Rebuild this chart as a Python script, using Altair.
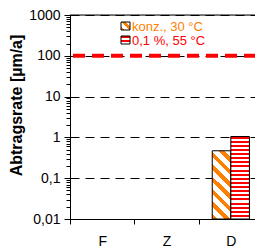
import altair as alt
import pandas as pd

categories = ["F", "Z", "D"]
series_names = ["konz., 30 °C", "0,1 %, 55 °C"]
konz_values = [None, None, 0.47]
dilute_values = [None, None, 1.05]
limit_value = 100
decades = [0.01, 0.1, 1, 10, 100, 1000]
series_colors = ["#ff8000", "#ff0000"]

rows = []
for c, v1, v2 in zip(categories, konz_values, dilute_values):
    if v1 is not None:
        rows.append({"cat": c, "series": series_names[0], "value": v1})
    if v2 is not None:
        rows.append({"cat": c, "series": series_names[1], "value": v2})
df = pd.DataFrame(rows)

def stripes(color, n, frac, x1, y1, x2, y2):
    stops = []
    for i in range(n):
        a = i / n
        b = (i + frac) / n
        c = (i + 1) / n
        stops += [{"offset": a, "color": color}, {"offset": b, "color": color},
                  {"offset": b, "color": "white"}, {"offset": c, "color": "white"}]
    return {"gradient": "linear", "x1": x1, "y1": y1, "x2": x2, "y2": y2, "stops": stops}

a = 0.27
k = (a + 1) / (1 + a * a)
diag_fill = stripes(series_colors[0], 7, 0.45, 0, 1, a * k, 1 - k)
horiz_fill = stripes(series_colors[1], 20, 0.5, 0, 0, 0, 1)
leg_diag = stripes(series_colors[0], 2, 0.45, 0, 1, 1, 0)
leg_horiz = stripes(series_colors[1], 2, 0.5, 0, 0, 0, 1)

ticks = []
for d in decades[:-1]:
    ticks += [d * m for m in range(1, 10)]
ticks.append(decades[-1])

dec_test = "abs(log(datum.value)/LN10 - round(log(datum.value)/LN10)) < 0.001"

yscale = alt.Scale(type="log", domain=[decades[0], decades[-1]])
xscale = alt.Scale(domain=categories, paddingInner=0, paddingOuter=0)
xoff = alt.XOffset("series:N", scale=alt.Scale(domain=series_names, paddingOuter=0.73, paddingInner=0))

x_axis = alt.Axis(title=None, tickBand="extent", tickSize=5, tickColor="black", domainColor="black",
                  labelAngle=0, labelFontSize=14, labelColor="black", labelPadding=10, grid=False)
y_axis = alt.Axis(
    title="Abtragsrate [µm/a]", titleFontSize=16, titleFontWeight="bold", titleColor="black",
    titleY=90, values=ticks,
    labelExpr=f"({dec_test}) ? replace(format(datum.value, ''), '.', ',') : ''",
    labelFontSize=14, labelColor="black", labelPadding=4,
    tickColor="black", domainColor="black",
    tickSize={"condition": {"test": dec_test, "value": 6}, "value": 4},
    grid=True, gridColor="black", gridDash=[9, 6], gridWidth=1,
    gridOpacity={"condition": {"test": dec_test, "value": 1}, "value": 0},
)

base = alt.Chart(df)
bars1 = base.transform_filter(alt.datum.series == series_names[0]).mark_bar(
    fill=diag_fill, stroke="black", strokeWidth=1).encode(
    x=alt.X("cat:N", scale=xscale, axis=x_axis),
    xOffset=xoff,
    y=alt.Y("value:Q", scale=yscale, axis=y_axis),
    y2=alt.datum(decades[0]),
)
bars2 = base.transform_filter(alt.datum.series == series_names[1]).mark_bar(
    fill=horiz_fill, stroke="black", strokeWidth=1).encode(
    x=alt.X("cat:N", scale=xscale),
    xOffset=xoff,
    y=alt.Y("value:Q", scale=yscale),
    y2=alt.datum(decades[0]),
)

limit = alt.Chart(pd.DataFrame({"v": [limit_value]})).mark_rule(
    color="#ff0000", strokeWidth=4, strokeDash=[12, 7], strokeDashOffset=12).encode(
    y=alt.Y("v:Q", scale=yscale))
top = alt.Chart(pd.DataFrame({"v": [decades[-1]]})).mark_rule(color="black", strokeWidth=1).encode(
    y=alt.Y("v:Q", scale=yscale))

legend_layers = []
leg_fills = [leg_diag, leg_horiz]
for i, (name, col) in enumerate(zip(series_names, series_colors)):
    yc = 11 + 14 * i
    d = pd.DataFrame({"label": [name]})
    legend_layers.append(alt.Chart(d).mark_rect(fill=leg_fills[i], stroke="black", strokeWidth=1).encode(
        x=alt.value(51), x2=alt.value(60), y=alt.value(yc - 4), y2=alt.value(yc + 4)))
    legend_layers.append(alt.Chart(d).mark_text(align="left", baseline="middle", fontSize=13, color=col).encode(
        x=alt.value(62), y=alt.value(yc + 1), text="label:N"))

chart = alt.layer(bars1, bars2, limit, top, *legend_layers).properties(
    width=193, height=204,
    padding={"left": 62, "top": 7, "right": -8, "bottom": 31},
    autosize=alt.AutoSizeParams(type="none"),
).configure_view(stroke=None).configure(font="Liberation Sans")

chart.save("out.html", embed_options={"renderer": "svg", "actions": False})
